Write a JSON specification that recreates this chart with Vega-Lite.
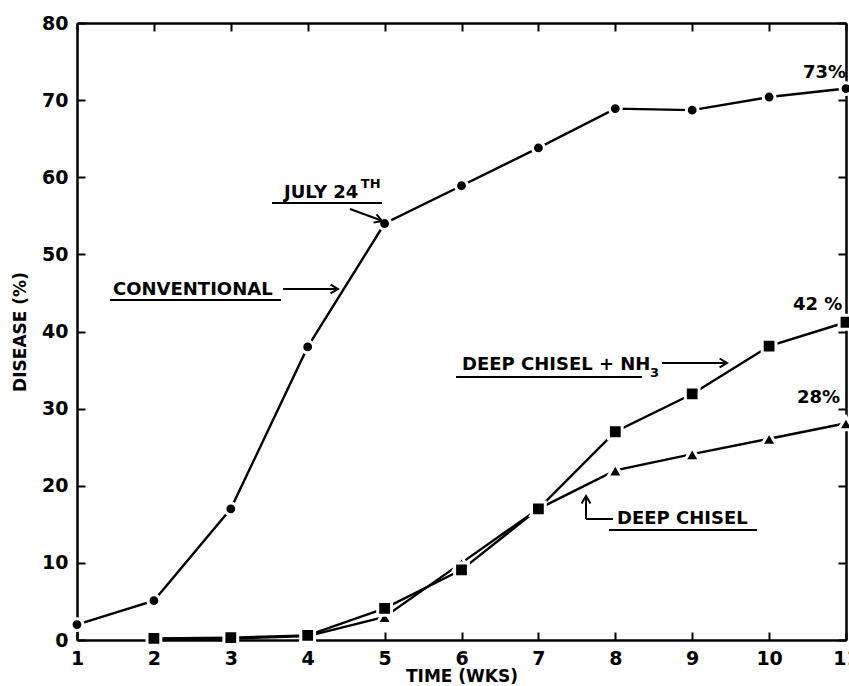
{
  "$schema": "https://vega.github.io/schema/vega-lite/v6.json",
  "width": 769,
  "height": 617,
  "autosize": {"type": "none"},
  "padding": {"left": 77, "top": 23, "right": 3, "bottom": 46},
  "background": "white",
  "config": {
    "view": {"stroke": null},
    "font": "DejaVu Sans",
    "axis": {
      "domainColor": "black",
      "domainWidth": 2.5,
      "tickColor": "black",
      "tickWidth": 2,
      "tickSize": -8,
      "labelColor": "black",
      "titleColor": "black",
      "labelFont": "DejaVu Sans",
      "titleFont": "DejaVu Sans",
      "labelFontSize": 19,
      "labelFontWeight": "bold",
      "titleFontSize": 17,
      "titleFontWeight": "bold",
      "grid": false,
      "zindex": 1
    }
  },
  "datasets": {
    "series": [
      {"week": 1, "disease": 2, "treatment": "CONVENTIONAL"},
      {"week": 2, "disease": 5.1, "treatment": "CONVENTIONAL"},
      {"week": 3, "disease": 17, "treatment": "CONVENTIONAL"},
      {"week": 4, "disease": 38, "treatment": "CONVENTIONAL"},
      {"week": 5, "disease": 54, "treatment": "CONVENTIONAL"},
      {"week": 6, "disease": 58.9, "treatment": "CONVENTIONAL"},
      {"week": 7, "disease": 63.8, "treatment": "CONVENTIONAL"},
      {"week": 8, "disease": 68.9, "treatment": "CONVENTIONAL"},
      {"week": 9, "disease": 68.7, "treatment": "CONVENTIONAL"},
      {"week": 10, "disease": 70.4, "treatment": "CONVENTIONAL"},
      {"week": 11, "disease": 71.5, "treatment": "CONVENTIONAL"},
      {"week": 2, "disease": 0.1, "treatment": "DEEP CHISEL"},
      {"week": 3, "disease": 0.2, "treatment": "DEEP CHISEL"},
      {"week": 4, "disease": 0.5, "treatment": "DEEP CHISEL"},
      {"week": 5, "disease": 3, "treatment": "DEEP CHISEL"},
      {"week": 6, "disease": 10, "treatment": "DEEP CHISEL"},
      {"week": 7, "disease": 17, "treatment": "DEEP CHISEL"},
      {"week": 8, "disease": 22, "treatment": "DEEP CHISEL"},
      {"week": 9, "disease": 24.1, "treatment": "DEEP CHISEL"},
      {"week": 10, "disease": 26.1, "treatment": "DEEP CHISEL"},
      {"week": 11, "disease": 28.1, "treatment": "DEEP CHISEL"},
      {"week": 2, "disease": 0.2, "treatment": "DEEP CHISEL + NH3"},
      {"week": 3, "disease": 0.3, "treatment": "DEEP CHISEL + NH3"},
      {"week": 4, "disease": 0.6, "treatment": "DEEP CHISEL + NH3"},
      {"week": 5, "disease": 4.1, "treatment": "DEEP CHISEL + NH3"},
      {"week": 6, "disease": 9.1, "treatment": "DEEP CHISEL + NH3"},
      {"week": 7, "disease": 17, "treatment": "DEEP CHISEL + NH3"},
      {"week": 8, "disease": 27, "treatment": "DEEP CHISEL + NH3"},
      {"week": 9, "disease": 31.9, "treatment": "DEEP CHISEL + NH3"},
      {"week": 10, "disease": 38.1, "treatment": "DEEP CHISEL + NH3"},
      {"week": 11, "disease": 41.2, "treatment": "DEEP CHISEL + NH3"}
    ],
    "labels": [
      {"x": 3.692, "y": 57.96, "text": "JULY 24"},
      {"x": 1.468, "y": 45.38, "text": "CONVENTIONAL"},
      {"x": 6.006, "y": 35.66, "text": "DEEP CHISEL + NH"},
      {"x": 8.022, "y": 15.69, "text": "DEEP CHISEL"},
      {"x": 10.441, "y": 73.52, "text": "73%"},
      {"x": 10.311, "y": 43.44, "text": "42 %"},
      {"x": 10.363, "y": 31.38, "text": "28%"}
    ],
    "smalllabels": [
      {"x": 4.690, "y": 59.1, "text": "TH"},
      {"x": 8.451, "y": 34.62, "text": "3"}
    ],
    "segments": [
      {"x": 3.536, "x2": 4.966, "y": 56.66, "y2": 56.66},
      {"x": 4.550, "x2": 4.940, "y": 55.88, "y2": 54.46},
      {"x": 1.429, "x2": 3.653, "y": 44.08, "y2": 44.08},
      {"x": 3.679, "x2": 4.381, "y": 45.51, "y2": 45.51},
      {"x": 5.929, "x2": 8.347, "y": 34.10, "y2": 34.10},
      {"x": 8.607, "x2": 9.440, "y": 35.92, "y2": 35.92},
      {"x": 7.918, "x2": 9.843, "y": 14.26, "y2": 14.26},
      {"x": 7.970, "x2": 7.619, "y": 15.69, "y2": 15.69},
      {"x": 7.619, "x2": 7.619, "y": 15.69, "y2": 18.54}
    ],
    "heads": [
      {"x": 4.966, "y": 54.33, "angle": 20},
      {"x": 4.394, "y": 45.51, "angle": 0},
      {"x": 9.453, "y": 35.92, "angle": 0},
      {"x": 7.619, "y": 18.67, "angle": 270}
    ]
  },
  "layer": [
    {
      "data": {"name": "series"},
      "mark": {"type": "line", "color": "black", "strokeWidth": 2.4},
      "encoding": {
        "x": {"field": "week", "type": "quantitative",
              "scale": {"domain": [1, 11], "nice": false, "zero": false},
              "axis": {"orient": "bottom", "values": [1, 2, 3, 4, 5, 6, 7, 8, 9, 10, 11], "format": "d",
                       "labelFlush": false, "labelPadding": 17, "title": "TIME (WKS)", "titlePadding": 0}},
        "y": {"field": "disease", "type": "quantitative",
              "scale": {"domain": [0, 80], "nice": false},
              "axis": {"orient": "left", "values": [0, 10, 20, 30, 40, 50, 60, 70, 80],
                       "labelFlush": false, "labelPadding": 17, "title": "DISEASE (%)", "titlePadding": 12}},
        "detail": {"field": "treatment"}
      }
    },
    {
      "data": {"name": "series"},
      "mark": {"type": "point", "filled": true, "fill": "black", "stroke": "white", "strokeWidth": 3, "strokeOpacity": 1, "opacity": 1},
      "encoding": {
        "x": {"field": "week", "type": "quantitative",
              "scale": {"domain": [1, 11], "nice": false, "zero": false},
              "axis": {"orient": "top", "values": [1, 2, 3, 4, 5, 6, 7, 8, 9, 10, 11], "labels": false, "title": null}},
        "y": {"field": "disease", "type": "quantitative",
              "scale": {"domain": [0, 80], "nice": false},
              "axis": {"orient": "right", "values": [0, 10, 20, 30, 40, 50, 60, 70, 80], "labels": false, "title": null}},
        "shape": {"field": "treatment", "type": "nominal", "legend": null,
                  "scale": {"domain": ["CONVENTIONAL", "DEEP CHISEL + NH3", "DEEP CHISEL"], "range": ["circle", "square", "triangle-up"]}},
        "size": {"field": "treatment", "type": "nominal", "legend": null,
                 "scale": {"type": "ordinal", "domain": ["CONVENTIONAL", "DEEP CHISEL + NH3", "DEEP CHISEL"], "range": [140, 190, 230]}}
      }
    },
    {
      "data": {"name": "segments"},
      "mark": {"type": "rule", "color": "black", "strokeWidth": 2},
      "encoding": {
        "x": {"field": "x", "type": "quantitative", "scale": {"domain": [1, 11], "nice": false, "zero": false}, "axis": null},
        "x2": {"field": "x2"},
        "y": {"field": "y", "type": "quantitative", "scale": {"domain": [0, 80], "nice": false}, "axis": null},
        "y2": {"field": "y2"}
      }
    },
    {
      "data": {"name": "heads"},
      "mark": {"type": "point", "shape": "M-1,-0.6L0,0L-1,0.6", "filled": false, "stroke": "black", "strokeWidth": 2, "size": 220, "opacity": 1},
      "encoding": {
        "x": {"field": "x", "type": "quantitative", "scale": {"domain": [1, 11], "nice": false, "zero": false}, "axis": null},
        "y": {"field": "y", "type": "quantitative", "scale": {"domain": [0, 80], "nice": false}, "axis": null},
        "angle": {"field": "angle", "type": "quantitative", "scale": null}
      }
    },
    {
      "data": {"name": "labels"},
      "mark": {"type": "text", "align": "left", "baseline": "middle", "font": "DejaVu Sans", "fontSize": 18, "fontWeight": "bold", "color": "black"},
      "encoding": {
        "x": {"field": "x", "type": "quantitative", "scale": {"domain": [1, 11], "nice": false, "zero": false}, "axis": null},
        "y": {"field": "y", "type": "quantitative", "scale": {"domain": [0, 80], "nice": false}, "axis": null},
        "text": {"field": "text"}
      }
    },
    {
      "data": {"name": "smalllabels"},
      "mark": {"type": "text", "align": "left", "baseline": "middle", "font": "DejaVu Sans", "fontSize": 13, "fontWeight": "bold", "color": "black"},
      "encoding": {
        "x": {"field": "x", "type": "quantitative", "scale": {"domain": [1, 11], "nice": false, "zero": false}, "axis": null},
        "y": {"field": "y", "type": "quantitative", "scale": {"domain": [0, 80], "nice": false}, "axis": null},
        "text": {"field": "text"}
      }
    }
  ]
}
